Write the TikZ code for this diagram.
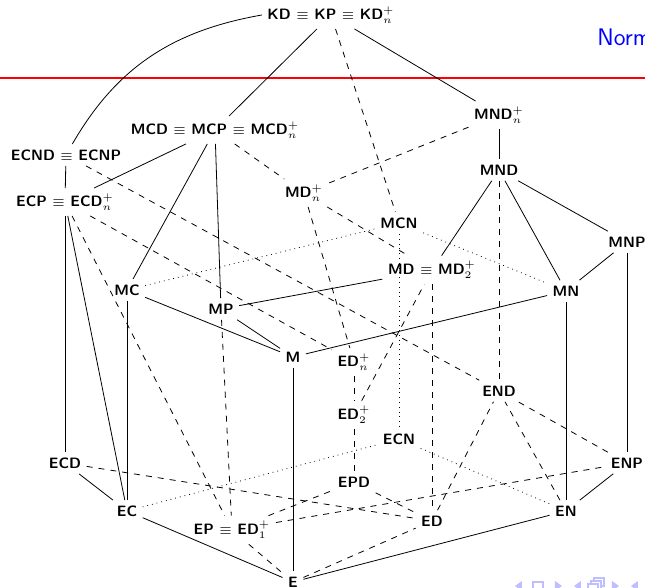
\documentclass[tikz,border=0pt]{standalone}
\usepackage{amsmath}
\usepackage{amssymb}
\usepackage{tikz}
\colorlet{navblue}{blue!25}
\tikzstyle{sys}=[font=\fontsize{7.5}{9}\selectfont\sffamily\bfseries, inner sep=2.6pt]
\tikzstyle{nav}=[fill=navblue, draw=none]

\begin{document}
\begin{tikzpicture}[x=5pt, y=5pt]
    \useasboundingbox (0,0) rectangle (64.5,58.8);

    \node[text=blue, font=\fontsize{12}{14}\selectfont\sffamily, anchor=base west, inner sep=0] (title) at (59.7,54.2) {Norm};
    \draw[red, line width=1pt] (0,51.0) -- (64.5,51.0);

    \node[sys] (kd) at (33.1, 57.3) {KD $\equiv$ KP $\equiv$ KD$^+_n$};
    
    \node[sys] (mndn) at (49.9, 47.3) {MND$^+_n$};
    \node[sys] (mcd) at (21.5, 45.8) {MCD $\equiv$ MCP $\equiv$ MCD$^+_n$};
    \node[sys] (ecnd) at (6.6, 43.3) {ECND $\equiv$ ECNP};
    \node[sys] (mnd) at (49.9, 41.8) {MND};
    \node[sys] (mdn) at (30.4, 39.5) {MD$^+_n$};
    \node[sys] (ecp) at (6.5, 38.6) {ECP $\equiv$ ECD$^+_n$};
    
    \node[sys] (mcn) at (39.9, 36.5) {MCN};
    \node[sys] (mnp) at (62.7, 34.6) {MNP};
    \node[sys] (md) at (43.2, 31.8) {MD $\equiv$ MD$^+_2$};
    \node[sys] (mc) at (12.7, 29.8) {MC};
    \node[sys] (mn) at (56.6, 29.7) {MN};
    \node[sys] (mp) at (22.1, 27.9) {MP};
    \node[sys] (m) at (29.3, 23.1) {M};
    
    \node[sys] (edn) at (35.4, 22.6) {ED$^+_n$};
    \node[sys] (end) at (49.9, 19.7) {END};
    \node[sys] (ed2) at (35.4, 17.3) {ED$^+_2$};
    \node[sys] (ecn) at (39.9, 14.9) {ECN};
    \node[sys] (ecd) at (6.5, 12.5) {ECD};
    \node[sys] (enp) at (62.7, 12.5) {ENP};
    \node[sys] (epd) at (35.4, 10.6) {EPD};
    \node[sys] (ec) at (12.7, 7.7) {EC};
    \node[sys] (en) at (56.6, 7.7) {EN};
    \node[sys] (ed) at (43.2, 6.7) {ED};
    \node[sys] (ep) at (23.2, 5.8) {EP $\equiv$ ED$^+_1$};
    \node[sys] (e) at (29.3, 0.6) {E};

    \draw (kd) -- (mcd);
    \draw (kd) -- (mndn);
    \draw (kd.west) to[out=190,in=60] (ecnd);
    \draw (ecnd) -- (ecp);
    \draw (mcd) -- (ecp);
    \draw (mcd) -- (mc);
    \draw (mcd) -- (mp);
    \draw (mndn) -- (mnd);
    \draw (mnd) -- (md);
    \draw (mnd) -- (mn);
    \draw (mnd) -- (mnp);
    \draw (mn) -- (mnp);
    \draw (mnp) -- (enp);
    \draw (mp) -- (m);
    \draw (mp) -- (md);
    \draw (mc) -- (m);
    \draw (m) -- (mn);
    \draw (mc) -- (ec);
    \draw (ecp) -- (ecd);
    \draw (ecp) -- (ec);
    \draw (ecd) -- (ec);
    \draw (m) -- (e);
    \draw (mn) -- (en);
    \draw (en) -- (enp);
    \draw (ec) -- (e);
    \draw (e) -- (en);

    \draw[dashed] (kd) -- (mcn);
    \draw[dashed] (mcd) -- (mdn);
    \draw[dashed] (mndn) -- (mdn);
    \draw[dashed] (mdn) -- (edn);
    \draw[dashed] (mdn) -- (md);
    \draw[dashed] (ecnd) -- (end);
    \draw[dashed] (ecp) -- (edn);
    \draw[dashed] (ecp) -- (ep);
    \draw[dashed] (mp) -- (ep);
    \draw[dashed] (ep) -- (e);
    \draw[dashed] (ep) -- (epd);
    \draw[dashed] (ep) -- (enp);
    \draw[dashed] (ecd) -- (ed);
    \draw[dashed] (epd) -- (ed);
    \draw[dashed] (e) -- (ed);
    \draw[dashed] (ed) -- (end);
    \draw[dashed] (en) -- (end);
    \draw[dashed] (enp) -- (end);
    \draw[dashed] (mnd) -- (end);
    \draw[dashed] (md) -- (ed);
    \draw[dashed] (ed2) -- (md);
    \draw[dashed] (edn) -- (ed2);
    \draw[dashed] (ed2) -- (epd);

    \draw[dotted] (mc) -- (mcn);
    \draw[dotted] (mcn) -- (mn);
    \draw[dotted] (mcn) -- (ecn);
    \draw[dotted] (ec) -- (ecn);
    \draw[dotted] (ecn) -- (en);

    \fill[nav] (52.2,0.7) -- (51.5,0.2) -- (52.2,-0.3) -- cycle;
    \draw[navblue, line width=0.6pt] (53.3,-0.4) rectangle (54.3,0.6);
    \fill[nav] (55.5,0.7) -- (56.2,0.2) -- (55.5,-0.3) -- cycle;
    \fill[nav] (58.1,0.7) -- (57.4,0.2) -- (58.1,-0.3) -- cycle;
    \draw[navblue, line width=0.6pt] (58.8,-0.4) rectangle (59.8,0.4);
    \draw[navblue, line width=0.6pt] (59.1,0.4) -- (59.1,0.7) -- (60.1,0.7) -- (60.1,-0.1) -- (59.8,-0.1);
    \draw[navblue, line width=0.6pt] (59.4,0.7) -- (59.4,1.0) -- (60.4,1.0) -- (60.4,0.2) -- (60.1,0.2);
    \fill[nav] (61.2,0.7) -- (61.9,0.2) -- (61.2,-0.3) -- cycle;
    \fill[nav] (63.8,0.7) -- (63.1,0.2) -- (63.8,-0.3) -- cycle;
\end{tikzpicture}
\end{document}
